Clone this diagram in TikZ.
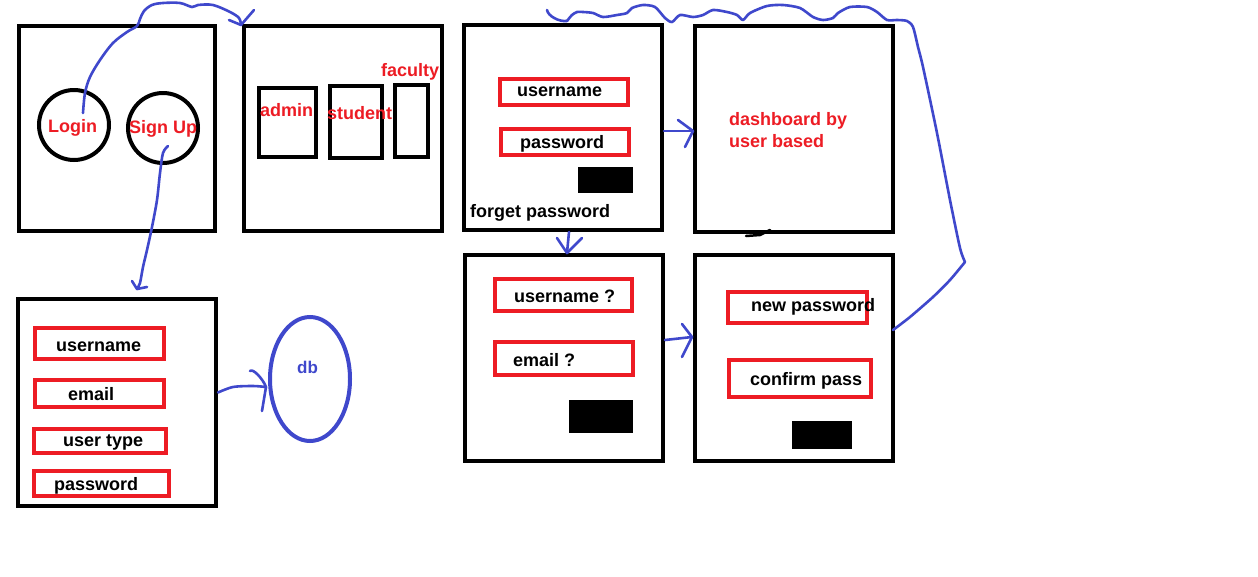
\documentclass[tikz,border=0pt]{standalone}
\usepackage{fontspec}
\setmainfont{Liberation Sans}
\usetikzlibrary{calc,shapes.geometric}
\definecolor{pred}{HTML}{ED1C24}
\definecolor{pblue}{HTML}{3F48CC}
\begin{document}
\begin{tikzpicture}[x=1pt,y=-1pt,
  frame/.style={draw=black,line width=4pt,inner sep=0pt,rectangle},
  cell/.style={draw=black,line width=3.6pt,inner sep=0pt,rectangle},
  field/.style={draw=pred,line width=4pt,inner sep=0pt,rectangle},
  btn/.style={fill=black,inner sep=0pt,rectangle},
  ring/.style={draw=black,line width=4pt,circle,inner sep=0pt,minimum size=70pt},
  rtxt/.style={text=pred,font=\fontsize{18}{21}\selectfont\bfseries,inner sep=0pt,anchor=base west},
  btxt/.style={text=black,font=\fontsize{18}{21}\selectfont\bfseries,inner sep=0pt,anchor=base west},
  flow/.style={draw=pblue,line width=2.6pt,line cap=round,line join=round},
]
\useasboundingbox[fill=white] (0,0) rectangle (1258,576);

% ---- home screen
\node[frame,minimum width=196pt,minimum height=205pt] (home) at (117,128.5) {};
\node[ring] (login) at (74,125) {};
\node[ring] (signup) at (163,128) {};
\node[rtxt] (tlogin) at (48,132) {Login};
\node[rtxt] (tsignup) at (129,133.3) {Sign Up};

% ---- roles screen
\node[frame,minimum width=198pt,minimum height=205pt] (roles) at (343,128.5) {};
\node[cell,minimum width=57pt,minimum height=69pt] (admin) at (287.5,122.5) {};
\node[cell,minimum width=52pt,minimum height=72pt] (student) at (356,122) {};
\node[cell,minimum width=33pt,minimum height=72pt] (faculty) at (411.5,121) {};
\node[rtxt] (tadmin) at (260,116.7) {admin};
\node[rtxt] (tstudent) at (327,119.3) {student};
\node[rtxt] (tfaculty) at (381,76.7) {faculty};

% ---- login form
\node[frame,minimum width=198pt,minimum height=205pt] (loginform) at (563,127.5) {};
\node[field,minimum width=128pt,minimum height=26pt] (luser) at (564,92) {};
\node[field,minimum width=128pt,minimum height=26pt] (lpass) at (565,142) {};
\node[btn,minimum width=55pt,minimum height=26pt] (lbtn) at (605.5,180) {};
\node[btxt] (tluser) at (517,96) {username};
\node[btxt] (tlpass) at (520,148.3) {password};
\node[btxt] (tforget) at (470,217.3) {forget password};

% ---- dashboard
\node[frame,minimum width=198pt,minimum height=206pt] (dash) at (794,129) {};
\node[rtxt] (tdash1) at (729,125) {dashboard by};
\node[rtxt] (tdash2) at (729,147.3) {user based};
\draw[line width=2.5pt,line cap=round] (746,236) -- (760,235) -- (770,230);

% ---- forgot form
\node[frame,minimum width=198pt,minimum height=206pt] (forgot) at (564,358) {};
\node[field,minimum width=137pt,minimum height=32pt] (fuser) at (563.5,295) {};
\node[field,minimum width=138pt,minimum height=33pt] (fmail) at (564,358.5) {};
\node[btn,minimum width=64pt,minimum height=33pt] (fbtn) at (601,416.5) {};
\node[btxt] (tfuser) at (514,302.7) {username ?};
\node[btxt] (tfmail) at (513,366) {email ?};

% ---- new password form
\node[frame,minimum width=198pt,minimum height=206pt] (reset) at (794,358) {};
\node[field,minimum width=139pt,minimum height=31pt] (rnew) at (797.5,307.5) {};
\node[field,minimum width=142pt,minimum height=37pt] (rconf) at (800,378.5) {};
\node[btn,minimum width=60pt,minimum height=28pt] (rbtn) at (822,435) {};
\node[btxt] (trnew) at (751,311.7) {new password};
\node[btxt] (trconf) at (750,385) {confirm pass};

% ---- sign up form
\node[frame,minimum width=198pt,minimum height=207pt] (signform) at (117,402.5) {};
\node[field,minimum width=129pt,minimum height=31pt] (suser) at (99.5,343.5) {};
\node[field,minimum width=129pt,minimum height=27pt] (smail) at (99.5,393.5) {};
\node[field,minimum width=132pt,minimum height=24pt] (stype) at (100,441) {};
\node[field,minimum width=135pt,minimum height=25pt] (spass) at (101.5,483.5) {};
\node[btxt] (tsuser) at (56,351.7) {username};
\node[btxt] (tsmail) at (68,400) {email};
\node[btxt] (tstype) at (63,446.7) {user type};
\node[btxt] (tspass) at (54,490) {password};

% ---- database
\node[draw=pblue,line width=4pt,ellipse,inner sep=0pt,minimum width=80pt,minimum height=124pt] (db) at (310,379) {};
\node[text=pblue,font=\fontsize{17}{20}\selectfont\bfseries,inner sep=0pt,anchor=base west] (tdb) at (297,373.3) {db};

% ---- connectors
% login -> roles
\coordinate (a1s) at ($(login.center)+(9,-12)$);
\coordinate (a1e) at ($(roles.north west)+(-1,1)$);
\draw[flow] plot[smooth,tension=0.55] coordinates {(a1s) (85,93) (90,77) (100,60) (113,43) (127,32) (137,26) (140,19) (144,11) (152,5) (163,3) (180,3) (192,7) (198,5) (213,5) (230,12) (239,18) (a1e)};
\draw[flow] (a1e) ++(-12,-5) -- (a1e) -- ++(13,-15);

% signup -> sign up form
\coordinate (a2s) at ($(signup.center)+(5,18)$);
\coordinate (a2e) at ($(signform.north)+(20,-8)$);
\draw[flow] plot[smooth,tension=0.5] coordinates {(a2s) (163,153) (160,173) (157,200) (152,227) (147,250) (143,267) (140,283) (a2e)};
\draw[flow] (a2e) ++(-5,-8) -- (a2e) -- ++(10,-2);

% sign up form -> db
\coordinate (a3s) at ($(signform.east)+(0,-10)$);
\coordinate (a3e) at ($(db.west)+(-2,8)$);
\draw[flow] plot[smooth,tension=0.5] coordinates {(a3s) (233,387) (253,386) (a3e)};
\draw[flow] (a3e) ++(-16,-16) .. controls ++(3,-3) and ++(-3,-8) .. (a3e) -- ++(-4,24);

% login form -> dashboard
\coordinate (a4s) at ($(loginform.east)+(0,3.5)$);
\coordinate (a4e) at ($(dash.west)+(0,2)$);
\draw[flow] (a4s) -- (a4e);
\draw[flow] (a4e) ++(-15,-11) -- (a4e) -- ++(-8,16);

% login form -> forgot form
\coordinate (a5s) at ($(loginform.south)+(6,0)$);
\coordinate (a5e) at ($(forgot.north)+(3,0)$);
\draw[flow] (a5s) -- (a5e);
\draw[flow] (a5e) ++(-10,-15) -- (a5e) -- ++(15,-15);

% forgot form -> new password form
\coordinate (a6s) at ($(forgot.east)+(0,-18)$);
\coordinate (a6e) at ($(reset.west)+(-1,-21)$);
\draw[flow] (a6s) -- (a6e);
\draw[flow] (a6e) ++(-10,-13) -- (a6e) -- ++(-10,20);

% new password form -> login form (long loop)
\coordinate (a7s) at ($(reset.east)+(-2,-28)$);
\coordinate (a7k) at (965,262);
\coordinate (a7e) at ($(loginform.north)+(4,-2)$);
\draw[flow] plot[smooth,tension=0.4] coordinates {(a7s) (910,317) (933,297) (950,280) (a7k)}
  plot[smooth,tension=0.45] coordinates {(a7k) (960,248) (950,200) (937,133) (923,67) (918,47) (913,27) (907,21) (897,20) (887,20) (877,12) (867,7) (850,7) (838,13) (833,18) (823,20) (813,17) (800,8) (783,5) (767,6) (750,13) (743,20) (737,15) (727,12) (713,10) (703,15) (693,17) (680,15) (672,22) (665,18) (655,7) (643,5) (632,8) (627,13) (617,15) (603,17) (593,13) (583,12) (577,12) (572,15) (a7e)};
\draw[flow] (a7e) ++(-20,-11) .. controls ++(1,6) and ++(-8,1) .. (a7e);
\end{tikzpicture}
\end{document}
